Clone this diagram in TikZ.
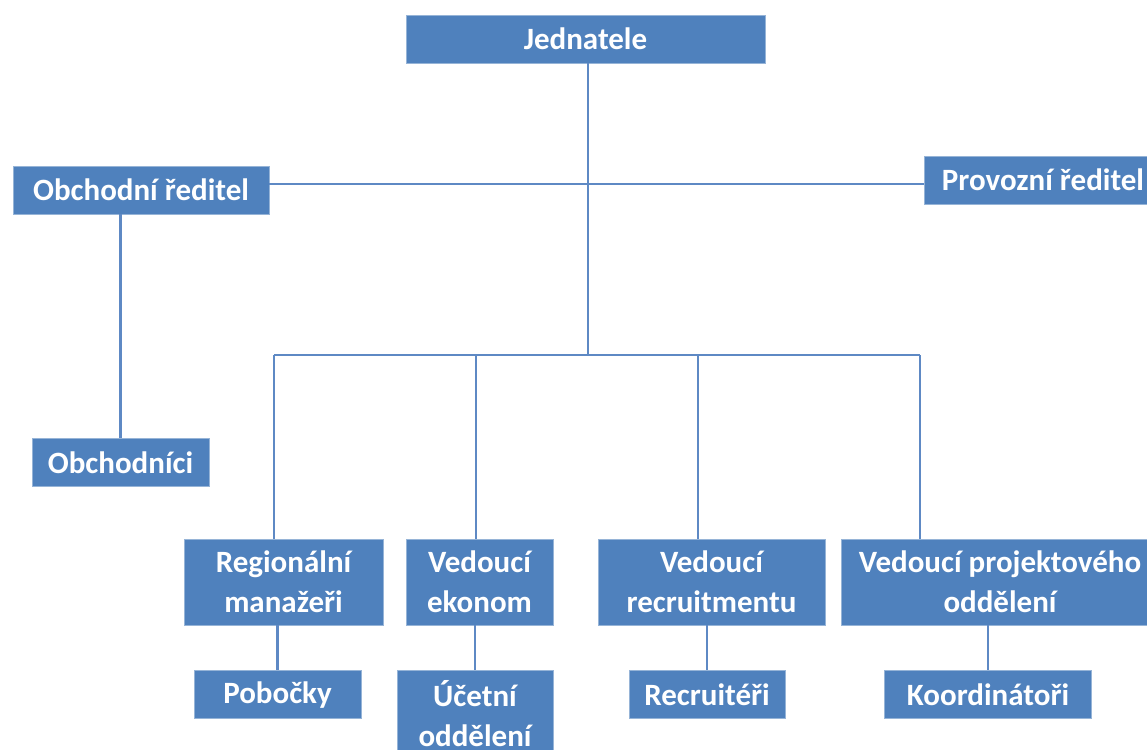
\documentclass[tikz,border=0pt]{standalone}
\usepackage{fontspec}
\setmainfont{Carlito}
\usetikzlibrary{positioning}

\definecolor{boxblue}{RGB}{79,129,189}
\definecolor{boxedge}{RGB}{150,180,215}
\definecolor{linkblue}{RGB}{94,137,196}

\begin{document}
\begin{tikzpicture}[x=1pt,y=-1pt,
			node distance=45pt,
			unit/.style={draw=boxedge, line width=0.8pt, fill=boxblue, text=white, font=\fontsize{31}{40}\selectfont\bfseries, align=center, inner sep=0pt, minimum height=48pt},
			tall/.style={unit, minimum height=86pt},
			link/.style={draw=linkblue, line width=2.2pt}
			]
	\useasboundingbox (0,0) rectangle (1147,749);
	
	%% VEDENÍ
	\node[unit, minimum width=359pt] (jednatele) at (585.5,39) {Jednatele};
	\node[unit, minimum width=256pt] (obchod) at (141,190) {Obchodní ředitel};
	\node[unit, minimum width=238pt] (provoz) at (1043,180) {Provozní ředitel};
	\node[unit, minimum width=177pt, below=224pt of obchod, xshift=-20.5pt] (obchodnici) {Obchodníci};
	
	%% VEDOUCÍ
	\node[tall, minimum width=199pt] (regional) at (283.5,582) {Regionální\\manažeři};
	\node[tall, minimum width=147pt] (ekonom) at (479.5,582) {Vedoucí\\ekonom};
	\node[tall, minimum width=227pt] (recruit) at (711.5,582) {Vedoucí\\recruitmentu};
	\node[tall, minimum width=318pt] (projekt) at (1000,582) {Vedoucí projektového\\oddělení};
	
	%% ÚTVARY
	\node[unit, minimum width=167pt, below=of regional, xshift=-6pt] (pobocky) {Pobočky};
	\node[tall, minimum width=156pt, below=of ekonom, xshift=-4.5pt] (ucetni) {Účetní\\oddělení};
	\node[unit, minimum width=156pt, below=of recruit, xshift=-4.5pt] (recruiteri) {Recruitéři};
	\node[unit, minimum width=207pt, below=of projekt, xshift=-12pt] (koord) {Koordinátoři};
	
	%% Spojnice
	\coordinate (ridic) at (588,184);
	\coordinate (bus1) at (274,355);
	\coordinate (bus2) at (476,355);
	\coordinate (bus3) at (698,355);
	\coordinate (bus4) at (920,355);
	\draw[link] (jednatele.south -| ridic) -- (bus2 -| ridic);
	\draw[link] (obchod.east |- ridic) -- (provoz.west |- ridic);
	\draw[link] (bus1) -- (bus4);
	\draw[link] (bus1) -- (bus1 |- regional.north);
	\draw[link] (bus2) -- (bus2 |- ekonom.north);
	\draw[link] (bus3) -- (bus3 |- recruit.north);
	\draw[link] (bus4) -- (bus4 |- projekt.north);
	\draw[link] (obchod.south -| obchodnici.north) -- (obchodnici.north);
	\draw[link] (regional.south -| pobocky.north) -- (pobocky.north);
	\draw[link] (ekonom.south -| ucetni.north) -- (ucetni.north);
	\draw[link] (recruit.south -| recruiteri.north) -- (recruiteri.north);
	\draw[link] (projekt.south -| koord.north) -- (koord.north);
	
\end{tikzpicture}
\end{document}
